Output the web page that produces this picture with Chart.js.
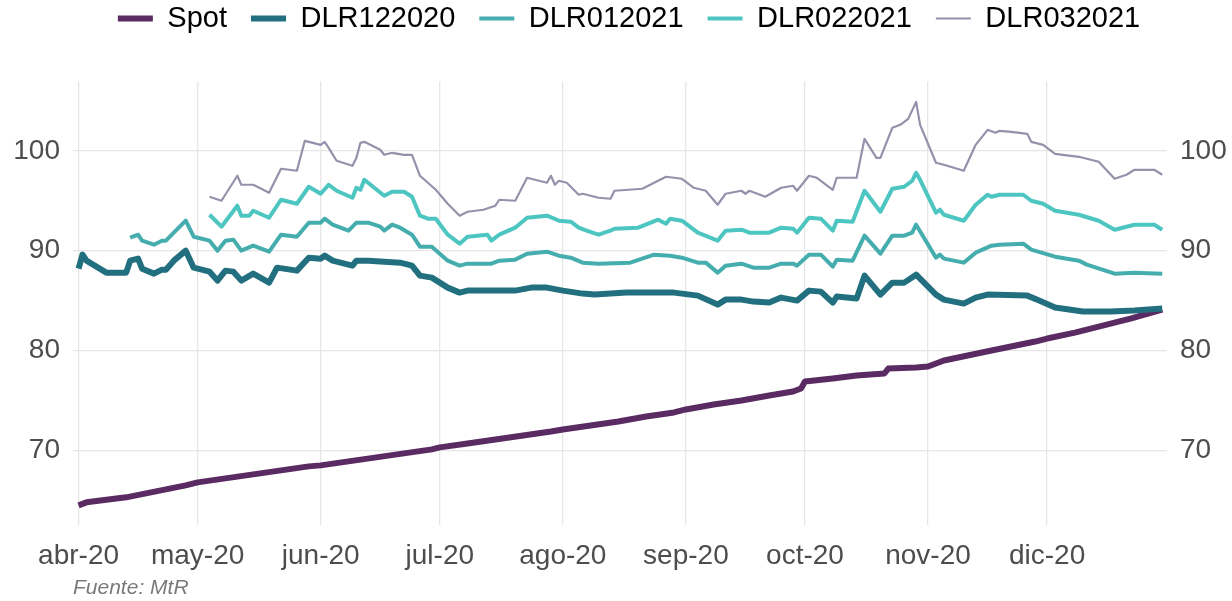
<!DOCTYPE html>
<html>
<head>
<meta charset="utf-8">
<script src="https://cdn.jsdelivr.net/npm/chart.js@4/dist/chart.umd.min.js"></script>
<style>
  html, body { margin: 0; padding: 0; background: #ffffff; }
  #wrap { width: 1232px; height: 601px; position: relative; }
</style>
</head>
<body>
<div id="wrap"><canvas id="c" width="1232" height="601"></canvas></div>
<script>
// x values are days counted from 1 Apr 2020
const monthStarts = [0, 30, 61, 91, 122, 153, 183, 214, 244];
const monthLabels = ['abr-20', 'may-20', 'jun-20', 'jul-20', 'ago-20', 'sep-20', 'oct-20', 'nov-20', 'dic-20'];
const yTicks = [70, 80, 90, 100];
const seriesNames = ['Spot', 'DLR122020', 'DLR012021', 'DLR022021', 'DLR032021'];
const caption = 'Fuente: MtR';

const spot = [[0,64.5],[2,64.8],[6,65.0],[12,65.3],[17,65.7],[22,66.1],[27,66.5],[30,66.8],[37,67.2],[44,67.6],[51,68.0],[58,68.4],[61,68.5],[68,68.9],[75,69.3],[82,69.7],[89,70.1],[91,70.3],[98,70.7],[105,71.1],[112,71.5],[119,71.9],[122,72.1],[129,72.5],[136,72.9],[143,73.4],[150,73.8],[153,74.1],[160,74.6],[167,75.0],[174,75.5],[180,75.9],[182,76.2],[183,76.9],[190,77.2],[196,77.5],[203,77.7],[204,78.2],[211,78.3],[214,78.4],[218,79.0],[230,80.0],[241,80.9],[244,81.2],[251,81.8],[258,82.5],[265,83.2],[273,84.1]];

const dlr122020 = [[0,88.2],[1,89.6],[2,89.0],[7,87.8],[12,87.8],[13,89.0],[15,89.2],[16,88.2],[19,87.7],[21,88.1],[22,88.1],[24,89.0],[27,90.0],[29,88.3],[33,87.9],[35,87.0],[37,88.0],[39,87.9],[41,87.0],[44,87.7],[48,86.8],[50,88.3],[55,88.0],[58,89.3],[61,89.2],[62,89.5],[64,89.0],[69,88.5],[70,89.0],[73,89.0],[81,88.8],[84,88.5],[86,87.5],[89,87.3],[93,86.3],[96,85.8],[98,86.0],[106,86.0],[110,86.0],[114,86.3],[118,86.3],[122,86.0],[127,85.7],[130,85.6],[138,85.8],[150,85.8],[156,85.5],[161,84.6],[163,85.1],[167,85.1],[170,84.9],[174,84.8],[177,85.3],[181,85.0],[184,86.0],[187,85.9],[190,84.8],[191,85.4],[196,85.2],[198,87.5],[202,85.6],[205,86.8],[208,86.8],[211,87.6],[216,85.6],[218,85.1],[223,84.7],[226,85.3],[229,85.6],[239,85.5],[242,85.0],[246,84.3],[253,83.9],[260,83.9],[266,84.0],[273,84.2]];

const dlr012021 = [[13,91.3],[15,91.6],[16,91.0],[19,90.6],[21,91.0],[22,91.0],[24,91.8],[27,93.0],[29,91.4],[33,91.0],[35,90.0],[37,91.0],[39,91.1],[41,90.0],[44,90.5],[48,89.9],[51,91.6],[55,91.4],[58,92.8],[61,92.8],[62,93.2],[64,92.6],[68,92.0],[70,92.8],[73,92.8],[76,92.4],[77,92.0],[79,92.6],[81,92.3],[84,91.6],[86,90.4],[89,90.4],[93,89.0],[96,88.5],[98,88.7],[104,88.7],[106,89.0],[110,89.1],[113,89.7],[118,89.9],[121,89.5],[124,89.3],[127,88.8],[131,88.7],[139,88.8],[145,89.6],[149,89.5],[152,89.3],[156,88.8],[158,88.8],[161,87.8],[163,88.5],[167,88.7],[170,88.3],[174,88.3],[177,88.7],[180,88.7],[181,88.5],[184,89.6],[187,89.6],[190,88.4],[191,89.1],[195,89.0],[198,91.5],[202,89.7],[205,91.5],[208,91.5],[210,91.8],[211,92.6],[216,89.3],[217,89.6],[218,89.2],[223,88.8],[226,89.8],[230,90.5],[232,90.6],[238,90.7],[240,90.1],[246,89.4],[252,89.0],[254,88.6],[261,87.7],[266,87.8],[273,87.7]];

const dlr022021 = [[33,93.6],[36,92.4],[40,94.5],[41,93.5],[43,93.5],[44,94.0],[48,93.3],[51,95.1],[55,94.7],[58,96.4],[61,95.7],[63,96.6],[65,96.0],[69,95.3],[70,96.3],[71,96.1],[72,97.1],[77,95.5],[79,95.9],[82,95.9],[84,95.4],[86,93.5],[88,93.2],[90,93.2],[93,91.6],[96,90.7],[98,91.4],[103,91.6],[104,91.0],[106,91.6],[110,92.3],[113,93.3],[118,93.5],[121,93.0],[124,92.9],[126,92.3],[128,92.0],[131,91.6],[134,92.0],[135,92.2],[141,92.3],[146,93.1],[148,92.7],[149,93.2],[152,93.0],[156,91.8],[161,91.0],[163,92.0],[167,92.1],[169,91.8],[174,91.8],[177,92.3],[180,92.2],[181,91.8],[184,93.3],[187,93.2],[190,92.0],[191,93.0],[195,92.9],[198,96.0],[202,93.9],[205,96.2],[208,96.4],[210,97.0],[211,97.8],[212,97.1],[216,93.8],[217,94.1],[218,93.6],[223,93.0],[226,94.6],[229,95.6],[230,95.4],[232,95.6],[238,95.6],[240,95.0],[243,94.7],[246,94.0],[252,93.6],[257,93.0],[261,92.1],[266,92.6],[271,92.6],[273,92.1]];

const dlr032021 = [[33,95.4],[36,95.0],[40,97.5],[41,96.6],[44,96.6],[48,95.8],[51,98.2],[55,98.0],[57,101.0],[61,100.6],[62,100.9],[63,100.3],[65,99.0],[69,98.5],[70,99.3],[71,100.8],[72,100.9],[76,100.1],[77,99.6],[79,99.8],[82,99.6],[84,99.6],[86,97.5],[90,96.1],[93,94.7],[96,93.5],[98,93.9],[102,94.1],[105,94.5],[106,95.1],[110,95.0],[113,97.3],[118,96.8],[119,97.5],[120,96.6],[121,97.0],[123,96.8],[126,95.6],[127,95.7],[129,95.5],[131,95.3],[134,95.2],[135,96.0],[142,96.2],[145,96.8],[148,97.4],[152,97.2],[155,96.3],[158,96.0],[161,94.6],[163,95.7],[167,96.0],[168,95.7],[169,96.0],[173,95.4],[177,96.3],[180,96.5],[181,96.0],[184,97.5],[186,97.3],[190,96.1],[191,97.3],[196,97.3],[198,101.2],[201,99.3],[202,99.3],[205,102.3],[207,102.6],[209,103.2],[211,104.9],[212,102.6],[216,98.8],[218,98.6],[223,98.0],[226,100.6],[229,102.1],[231,101.8],[232,102.0],[235,101.9],[239,101.7],[240,100.9],[243,100.6],[246,99.7],[252,99.4],[257,98.9],[261,97.2],[264,97.6],[266,98.1],[271,98.1],[273,97.6]];

const seriesData = [spot, dlr122020, dlr012021, dlr022021, dlr032021];
const seriesColors = ['#5a2a62', '#22707f', '#45adae', '#4dc5c1', '#9690ab'];
const seriesWidths = [6, 6, 4, 4, 2.2];

const FONT = "'Liberation Sans', Arial, sans-serif";
const GRID = '#e6e6e6';
const TICK = '#4d4d4d';

const datasets = seriesNames.map((name, i) => ({
  label: name,
  data: seriesData[i].map(p => ({ x: p[0], y: p[1] })),
  borderColor: seriesColors[i],
  backgroundColor: seriesColors[i],
  borderWidth: seriesWidths[i],
  pointRadius: 0,
  pointHoverRadius: 0,
  tension: 0,
  borderJoinStyle: 'round',
  fill: false,
  order: i === 0 ? 5 : (5 - i),
  yAxisID: 'y'
}));

// centre the legend row over the plot panel rather than the whole canvas
const legendShift = {
  id: 'legendShift',
  afterLayout(chart) {
    if (chart.legend) { chart.legend.left += 26; }
  }
};

new Chart(document.getElementById('c'), {
  type: 'line',
  data: { datasets },
  plugins: [legendShift],
  options: {
    responsive: false,
    animation: false,
    events: [],
    layout: { padding: { top: -20, left: 0, right: 0, bottom: 0 } },
    plugins: {
      legend: {
        display: true,
        position: 'top',
        align: 'center',
        labels: {
          usePointStyle: true,
          pointStyle: 'line',
          pointStyleWidth: 35,
          boxHeight: 29,
          padding: 24,
          color: '#000000',
          font: { family: FONT, size: 29 },
          sort: (a, b) => a.datasetIndex - b.datasetIndex
        }
      },
      tooltip: { enabled: false }
    },
    scales: {
      x: {
        type: 'linear',
        position: 'bottom',
        min: -1.4,
        max: 274.2,
        grid: { color: GRID, lineWidth: 1.3, drawTicks: false },
        border: { display: false },
        afterBuildTicks: (s) => { s.ticks = monthStarts.map(v => ({ value: v })); },
        afterFit: (s) => { s.height = 76; },
        ticks: {
          autoSkip: false,
          maxRotation: 0,
          padding: 14,
          color: TICK,
          font: { family: FONT, size: 28 },
          callback: (v) => { const k = monthStarts.indexOf(v); return k >= 0 ? monthLabels[k] : ''; }
        },
        title: {
          display: true,
          text: caption,
          align: 'start',
          color: '#7a7a7a',
          padding: { top: 0, bottom: 0 },
          font: { family: FONT, size: 21, style: 'italic' }
        }
      },
      xTop: {
        type: 'linear',
        position: 'top',
        display: true,
        grid: { display: false, drawTicks: false },
        border: { display: false },
        ticks: { display: false },
        afterFit: (s) => { s.height = 38.5; }
      },
      y: {
        type: 'linear',
        position: 'left',
        min: 62.53,
        max: 106.94,
        grid: { color: GRID, lineWidth: 1.3, drawTicks: false },
        border: { display: false },
        afterBuildTicks: (s) => { s.ticks = yTicks.map(v => ({ value: v })); },
        afterFit: (s) => { s.width = 73; },
        ticks: { padding: 13, color: TICK, font: { family: FONT, size: 28 } }
      },
      y2: {
        type: 'linear',
        position: 'right',
        min: 62.53,
        max: 106.94,
        grid: { display: false, drawTicks: false },
        border: { display: false },
        afterBuildTicks: (s) => { s.ticks = yTicks.map(v => ({ value: v })); },
        afterFit: (s) => { s.width = 65; },
        ticks: { padding: 13, color: TICK, font: { family: FONT, size: 28 } }
      }
    }
  }
});
</script>
</body>
</html>
